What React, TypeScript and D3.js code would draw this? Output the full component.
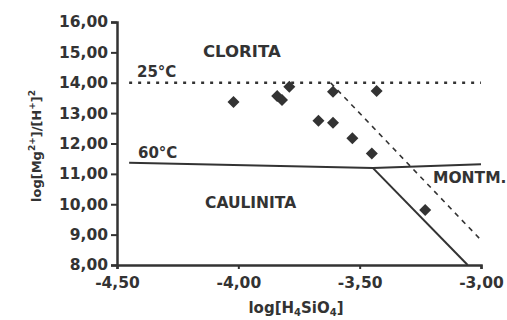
import { useEffect, useRef } from 'react';
import * as d3 from 'd3';

// measured samples: log[H4SiO4] vs log[Mg2+]/[H+]2
const sampleX = [-4.02, -3.84, -3.82, -3.79, -3.61, -3.43, -3.67, -3.61, -3.53, -3.45, -3.23];
const sampleY = [13.37, 13.56, 13.43, 13.87, 13.7, 13.73, 12.75, 12.68, 12.17, 11.67, 9.81];

// phase boundaries
const line25X = [-4.45, -3.0];
const line25Y = [14.0, 14.0];
const montm25X = [-3.62, -3.0];
const montm25Y = [14.0, 8.82];
const line60X = [-4.45, -3.445, -3.0];
const line60Y = [11.37, 11.19, 11.32];
const montm60X = [-3.445, -3.055];
const montm60Y = [11.19, 8.0];

const xTicks = [-4.5, -4.0, -3.5, -3.0];
const yTicks = [8, 9, 10, 11, 12, 13, 14, 15, 16];

const ink = '#333';
const font = '"DejaVu Sans", Arial, sans-serif';

const zip = (xs: number[], ys: number[]) => xs.map((x, i) => [x, ys[i]] as [number, number]);
// plain hyphen and decimal comma, as in the original
const fmt = (v: number) => (v < 0 ? '-' : '') + Math.abs(v).toFixed(2).replace('.', ',');

export default function App() {
  const ref = useRef<SVGSVGElement>(null);
  const width = 507;
  const height = 320;

  useEffect(() => {
    if (!ref.current) return;
    const svg = d3.select(ref.current);
    svg.selectAll('*').remove();

    const x = d3.scaleLinear().domain([-4.5, -3.0]).range([117, 481]);
    const y = d3.scaleLinear().domain([8, 16]).range([265, 22]);
    const line = d3
      .line<[number, number]>()
      .x((d) => x(d[0]))
      .y((d) => y(d[1]));

    svg.append('rect').attr('width', width).attr('height', height).attr('fill', '#fff');

    // axes
    const yAxis = svg
      .append('g')
      .attr('transform', `translate(${x(-4.5)},0)`)
      .call(d3.axisLeft(y).tickValues(yTicks).tickFormat((d) => fmt(+d)).tickSize(6).tickPadding(3));
    yAxis.select('.domain').attr('stroke', ink).attr('stroke-width', 2.5);
    yAxis.selectAll('line').attr('stroke', ink).attr('stroke-width', 2);
    yAxis
      .selectAll('text')
      .attr('fill', ink)
      .attr('font-family', font)
      .attr('font-weight', 'bold')
      .attr('font-size', '15.5px');

    const xAxis = svg
      .append('g')
      .attr('transform', `translate(0,${y(8)})`)
      .call(d3.axisBottom(x).tickValues(xTicks).tickFormat((d) => fmt(+d)).tickSize(4).tickPadding(8));
    xAxis.select('.domain').attr('stroke', ink).attr('stroke-width', 2.5);
    xAxis.selectAll('line').attr('stroke', ink).attr('stroke-width', 2);
    xAxis
      .selectAll('text')
      .attr('fill', ink)
      .attr('font-family', font)
      .attr('font-weight', 'bold')
      .attr('font-size', '15.5px');

    // boundaries
    svg
      .append('path')
      .attr('d', line(zip(line25X, line25Y)))
      .attr('fill', 'none')
      .attr('stroke', ink)
      .attr('stroke-width', 2.6)
      .attr('stroke-dasharray', '3,6');
    svg
      .append('path')
      .attr('d', line(zip(montm25X, montm25Y)))
      .attr('fill', 'none')
      .attr('stroke', ink)
      .attr('stroke-width', 1.6)
      .attr('stroke-dasharray', '5,5');
    svg
      .append('path')
      .attr('d', line(zip(line60X, line60Y)))
      .attr('fill', 'none')
      .attr('stroke', ink)
      .attr('stroke-width', 2);
    svg
      .append('path')
      .attr('d', line(zip(montm60X, montm60Y)))
      .attr('fill', 'none')
      .attr('stroke', ink)
      .attr('stroke-width', 2);

    // samples
    const sq = d3.symbol().type(d3.symbolSquare).size(72);
    svg
      .append('g')
      .selectAll('path')
      .data(zip(sampleX, sampleY))
      .join('path')
      .attr('d', sq)
      .attr('transform', (d) => `translate(${x(d[0])},${y(d[1])}) rotate(45)`)
      .attr('fill', ink);

    // labels
    const label = (tx: number, ty: number, s: string, size: number) =>
      svg
        .append('text')
        .attr('x', tx)
        .attr('y', ty)
        .attr('fill', ink)
        .attr('font-family', font)
        .attr('font-weight', 'bold')
        .attr('font-size', `${size}px`)
        .text(s);
    label(203, 57, 'CLORITA', 16.5);
    label(137, 77, '25°C', 15);
    label(138, 158, '60°C', 15);
    label(433, 183, 'MONTM.', 15.5);
    label(205, 208, 'CAULINITA', 15.5);

    // axis titles
    const xt = svg
      .append('text')
      .attr('x', 296)
      .attr('y', 313)
      .attr('text-anchor', 'middle')
      .attr('fill', ink)
      .attr('font-family', font)
      .attr('font-weight', 'bold')
      .attr('font-size', '15px');
    xt.append('tspan').text('log[H');
    xt.append('tspan').attr('font-size', '10px').attr('dy', 3).text('4');
    xt.append('tspan').attr('dy', -3).text('SiO');
    xt.append('tspan').attr('font-size', '10px').attr('dy', 3).text('4');
    xt.append('tspan').attr('dy', -3).text(']');

    const yt = svg
      .append('text')
      .attr('transform', 'translate(41,146) rotate(-90)')
      .attr('text-anchor', 'middle')
      .attr('fill', ink)
      .attr('font-family', font)
      .attr('font-weight', 'bold')
      .attr('font-size', '13px');
    yt.append('tspan').text('log[Mg');
    yt.append('tspan').attr('font-size', '9px').attr('dy', -6).text('2+');
    yt.append('tspan').attr('dy', 6).text(']/[H');
    yt.append('tspan').attr('font-size', '9px').attr('dy', -6).text('+');
    yt.append('tspan').attr('dy', 6).text(']');
    yt.append('tspan').attr('font-size', '9px').attr('dy', -6).text('2');
  }, []);

  return (
    <svg
      ref={ref}
      width={width}
      height={height}
      style={{ position: 'absolute', left: 0, top: 0 }}
    />
  );
}
